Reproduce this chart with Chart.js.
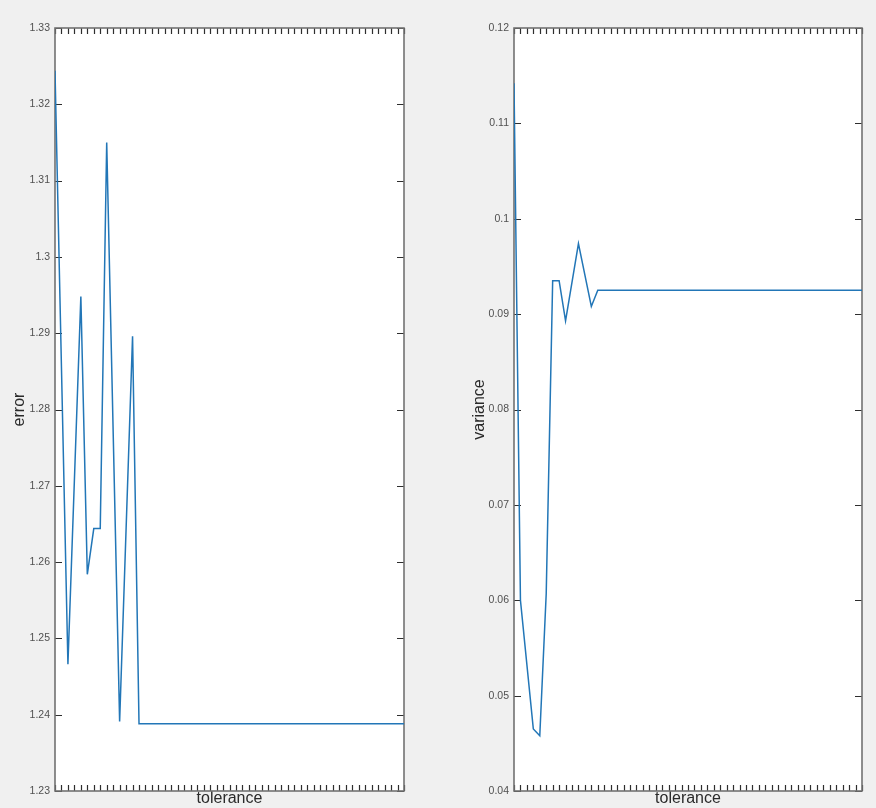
<!DOCTYPE html>
<html lang="en">
<head>
    <meta charset="UTF-8">
    <title>error / variance vs tolerance</title>
    <script src="https://cdn.jsdelivr.net/npm/chart.js"></script>
    <style>
        * {
            margin: 0;
            padding: 0;
            box-sizing: border-box;
        }

        body {
            background: #f0f0f0;
            width: 876px;
            height: 808px;
            position: relative;
            overflow: hidden;
        }

        .plot-box {
            position: absolute;
            top: 0;
            width: 438px;
            height: 808px;
        }

        #left-box { left: 0; }
        #right-box { left: 438px; }
    </style>
</head>
<body>
    <div class="plot-box" id="left-box"><canvas id="error-chart"></canvas></div>
    <div class="plot-box" id="right-box"><canvas id="variance-chart"></canvas></div>

    <script>
        // tolerance steps run 0..54, only the corners of each trace are listed
        const xMax = 54;

        const errorX = [0, 2, 4, 5, 6, 7, 8, 10, 12, 13, 54];
        const errorY = [1.3244, 1.2466, 1.2948, 1.2584, 1.2644, 1.2644, 1.3150, 1.2391, 1.2896, 1.2388, 1.2388];
        const errorRange = [1.23, 1.33];

        const varianceX = [0, 1, 3, 4, 5, 6, 7, 8, 10, 12, 13, 54];
        const varianceY = [0.1142, 0.0600, 0.0465, 0.0458, 0.0607, 0.0935, 0.0935, 0.0893, 0.0974, 0.0908, 0.0925, 0.0925];
        const varianceRange = [0.04, 0.12];

        const lineColor = '#2276b7';
        const fontFamily = "'Liberation Sans', Arial, Helvetica, sans-serif";

        // white axes box, border and inward tick marks on all four sides
        const boxPlugin = {
            id: 'matlabBox',
            beforeDraw(chart) {
                const {ctx, chartArea: a} = chart;
                ctx.save();
                ctx.fillStyle = '#ffffff';
                ctx.fillRect(a.left, a.top, a.width, a.height);
                ctx.restore();
            },
            beforeDatasetsDraw(chart) {
                const {ctx, chartArea: a, scales: {x, y}} = chart;
                ctx.save();
                ctx.strokeStyle = '#2e2e2e';
                ctx.lineWidth = 1.2;
                ctx.beginPath();
                x.ticks.forEach(t => {
                    const px = Math.round(x.getPixelForValue(t.value)) + 0.5;
                    ctx.moveTo(px, a.top);
                    ctx.lineTo(px, a.top + 6);
                    ctx.moveTo(px, a.bottom);
                    ctx.lineTo(px, a.bottom - 6);
                });
                y.ticks.forEach(t => {
                    const py = Math.round(y.getPixelForValue(t.value)) + 0.5;
                    ctx.moveTo(a.left, py);
                    ctx.lineTo(a.left + 7, py);
                    ctx.moveTo(a.right, py);
                    ctx.lineTo(a.right - 7, py);
                });
                ctx.stroke();
                ctx.strokeStyle = '#727272';
                ctx.lineWidth = 1.6;
                ctx.strokeRect(a.left, a.top, a.width, a.height);
                ctx.restore();
            }
        };

        function makeChart(id, xs, ys, range, yTitle, axisWidth, rightPad, titlePad) {
            const points = xs.map((x, i) => ({x: x, y: ys[i]}));
            return new Chart(document.getElementById(id), {
                type: 'line',
                data: {
                    datasets: [{
                        data: points,
                        borderColor: lineColor,
                        borderWidth: 1.5,
                        pointRadius: 0,
                        tension: 0,
                        fill: false
                    }]
                },
                options: {
                    responsive: true,
                    maintainAspectRatio: false,
                    animation: false,
                    layout: {
                        padding: {top: 28, right: rightPad, left: 0, bottom: 0}
                    },
                    plugins: {
                        legend: {display: false},
                        tooltip: {enabled: false}
                    },
                    scales: {
                        x: {
                            type: 'linear',
                            min: 0,
                            max: xMax,
                            ticks: {display: false, stepSize: 1, maxTicksLimit: 100},
                            grid: {display: false, drawTicks: false},
                            border: {display: false},
                            title: {
                                display: true,
                                text: 'tolerance',
                                color: '#2a2a2a',
                                font: {family: fontFamily, size: 16},
                                padding: {top: 0, bottom: 0}
                            },
                            afterFit: s => { s.height = 17; }
                        },
                        y: {
                            min: range[0],
                            max: range[1],
                            ticks: {
                                stepSize: 0.01,
                                maxTicksLimit: 100,
                                padding: 5,
                                color: '#505050',
                                font: {family: fontFamily, size: 10.5},
                                callback: v => String(Number(v.toFixed(2)))
                            },
                            grid: {display: false, drawTicks: false},
                            border: {display: false},
                            title: {
                                display: true,
                                text: yTitle,
                                color: '#2a2a2a',
                                font: {family: fontFamily, size: 16},
                                padding: {top: titlePad, bottom: 0}
                            },
                            afterFit: s => { s.width = axisWidth; }
                        }
                    }
                },
                plugins: [boxPlugin]
            });
        }

        makeChart('error-chart', errorX, errorY, errorRange, 'error', 55, 34, 10.4);
        makeChart('variance-chart', varianceX, varianceY, varianceRange, 'variance', 76, 14, 32.4);
    </script>
</body>
</html>
